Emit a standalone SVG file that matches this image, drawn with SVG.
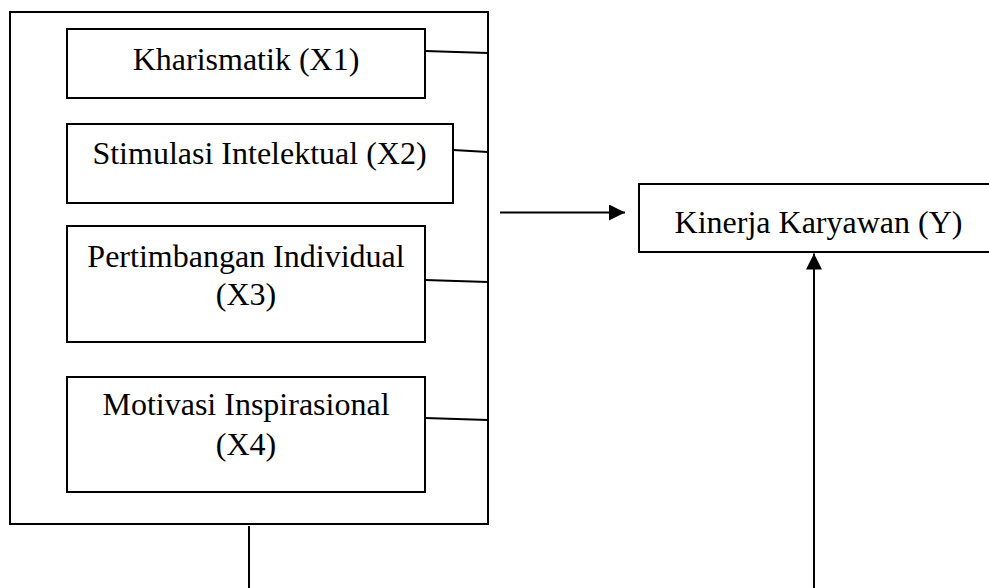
<svg xmlns="http://www.w3.org/2000/svg" width="989" height="588" viewBox="0 0 989 588">
<defs>
<style>
.box{fill:#fff;stroke:#000;stroke-width:2}
.ln{stroke:#000;stroke-width:2;fill:none}
.t{font-family:"Liberation Serif","Times New Roman",serif;font-size:32px;fill:#000;text-anchor:middle}
</style>
<marker id="ah" viewBox="0 0 16 16" refX="16" refY="8" markerWidth="16" markerHeight="16" markerUnits="userSpaceOnUse" orient="auto">
<path d="M0,0 L16,8 L0,16 Z" fill="#000"/>
</marker>
</defs>
<g id="outer"><rect class="box" x="10" y="12" width="478" height="512"/></g>
<g id="x1"><rect class="box" x="67" y="29" width="358" height="69"/><text class="t" x="246" y="70">Kharismatik (X1)</text></g>
<g id="x2"><rect class="box" x="67" y="124" width="386" height="79"/><text class="t" x="259.5" y="164">Stimulasi Intelektual (X2)</text></g>
<g id="x3"><rect class="box" x="67" y="226" width="358" height="116"/><text class="t" x="246" y="267">Pertimbangan Individual</text><text class="t" x="246" y="305">(X3)</text></g>
<g id="x4"><rect class="box" x="67" y="377" width="358" height="115"/><text class="t" x="246" y="415">Motivasi Inspirasional</text><text class="t" x="246" y="455">(X4)</text></g>
<g id="y"><rect class="box" x="639" y="184" width="360" height="68"/><text class="t" x="818.5" y="233">Kinerja Karyawan (Y)</text></g>
<g id="connectors">
<line class="ln" x1="425" y1="51" x2="488" y2="53"/>
<line class="ln" x1="453" y1="150" x2="488" y2="152"/>
<line class="ln" x1="425" y1="280" x2="488" y2="282"/>
<line class="ln" x1="425" y1="418" x2="488" y2="420"/>
<line class="ln" x1="500" y1="212.5" x2="625" y2="212.5" marker-end="url(#ah)"/>
<line class="ln" x1="249" y1="526" x2="249" y2="588"/>
<line class="ln" x1="814" y1="588" x2="814" y2="253.5" marker-end="url(#ah)"/>
</g>
</svg>
